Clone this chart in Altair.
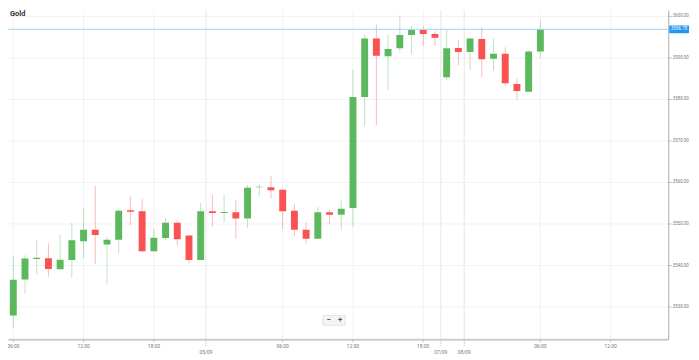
import altair as alt
import pandas as pd

title_text = "Gold"
current_price = 3596.78

idx = list(range(47))
opens = [3533.50, 3527.85, 3536.50, 3541.43, 3541.66, 3538.97, 3541.19, 3545.71, 3548.50, 3544.93,
         3546.12, 3553.17, 3552.93, 3543.33, 3546.50, 3550.16, 3547.14, 3541.19, 3552.93, 3552.54,
         3552.69, 3551.19, 3558.73, 3558.73, 3558.16, 3553.09, 3548.50, 3546.35, 3552.69, 3552.14,
         3553.73, 3580.47, 3594.59, 3590.31, 3592.21, 3595.40, 3596.59, 3595.64, 3585.23, 3592.31,
         3591.35, 3594.45, 3589.69, 3590.88, 3583.64, 3581.73, 3591.43]
closes = [3527.54, 3536.43, 3541.59, 3541.74, 3539.04, 3541.26, 3545.95, 3548.50, 3547.21, 3546.12,
          3553.09, 3552.86, 3543.33, 3546.59, 3550.16, 3546.19, 3541.19, 3552.93, 3552.54, 3552.78,
          3551.19, 3558.64, 3558.88, 3558.02, 3552.93, 3548.50, 3546.35, 3552.69, 3552.14, 3553.57,
          3580.47, 3594.59, 3590.40, 3592.07, 3595.40, 3596.59, 3595.64, 3594.76, 3592.21, 3591.35,
          3594.59, 3589.59, 3590.88, 3583.81, 3581.90, 3591.43, 3596.78]
highs = [3534.69, 3542.07, 3542.38, 3545.95, 3545.23, 3547.38, 3550.23, 3553.57, 3559.12, 3546.83,
         3553.33, 3556.50, 3555.88, 3548.73, 3551.35, 3550.71, 3547.14, 3554.93, 3556.90, 3556.90,
         3555.54, 3559.28, 3559.52, 3561.50, 3558.16, 3554.76, 3550.31, 3553.97, 3553.33, 3555.47,
         3587.07, 3595.40, 3597.93, 3595.54, 3600.16, 3597.62, 3597.55, 3596.35, 3596.83, 3594.21,
         3594.59, 3597.38, 3594.52, 3592.45, 3584.93, 3591.66, 3598.97]
lows = [3525.95, 3524.76, 3533.09, 3537.69, 3537.21, 3538.97, 3536.97, 3541.66, 3540.23, 3535.47,
        3542.85, 3549.59, 3543.09, 3543.17, 3546.02, 3544.76, 3540.40, 3541.19, 3549.35, 3550.31,
        3546.35, 3548.97, 3556.66, 3556.02, 3548.73, 3546.97, 3545.23, 3546.35, 3549.93, 3548.33,
        3549.21, 3573.57, 3573.73, 3582.14, 3591.43, 3590.78, 3592.78, 3592.86, 3584.59, 3588.09,
        3586.97, 3585.23, 3586.83, 3583.26, 3579.93, 3581.73, 3589.83]

time_tick_pos = [1, 7, 13, 24, 30, 36, 46, 52]
time_tick_labels = ["06:00", "12:00", "18:00", "06:00", "12:00", "18:00", "06:00", "12:00"]
date_tick_pos = [17.45, 37.5, 39.5]
date_tick_labels = ["05/09", "07/09", "08/09"]
y_ticks = [3530, 3540, 3550, 3560, 3570, 3580, 3590, 3600]

UP = "#5cb85c"
DOWN = "#fa5252"
W, H = 668, 333
x_dom = [0.5485, 56.92]
y_dom = [3522.14, 3601.43]

df = pd.DataFrame({"i": idx, "open": opens, "close": closes, "high": highs, "low": lows})
df["dir"] = ["up" if c >= o else "down" for o, c in zip(opens, closes)]

xs = alt.Scale(domain=x_dom, nice=False, zero=False, padding=0)
ys = alt.Scale(domain=y_dom, nice=False, zero=False, padding=0)
x_axis = alt.Axis(labels=False, ticks=False, grid=False, title=None, domainColor="#cccccc", domainWidth=2)
y_axis = alt.Axis(orient="right", values=y_ticks, format=".2f", title=None,
                  grid=True, gridColor="#f2f2f2", domainColor="#aaaaaa",
                  tickColor="#bbbbbb", tickSize=3, labelFontSize=4.5,
                  labelColor="#777777", labelPadding=1, labelFont="Roboto")
col = alt.Color("dir:N", scale=alt.Scale(domain=["up", "down"], range=[UP, DOWN]), legend=None)


def X(field):
    return alt.X(field, scale=xs, axis=x_axis)


def Y(field):
    return alt.Y(field, scale=ys, axis=y_axis)


base = alt.Chart(df)

wicks = base.mark_rule(strokeWidth=1, opacity=0.4, clip=True).encode(
    x=X("i:Q"), y=Y("low:Q"), y2="high:Q", color=col)

bodies = base.mark_bar(size=7, clip=True).encode(
    x=X("i:Q"), y=Y("open:Q"), y2="close:Q", color=col)

tdf = pd.DataFrame({"pos": time_tick_pos, "label": time_tick_labels})
ddf = pd.DataFrame({"pos": date_tick_pos, "label": date_tick_labels})

tgrid = alt.Chart(tdf).mark_rule(color="#f2f2f2", strokeWidth=1, clip=True).encode(
    x=X("pos:Q"), y=alt.value(0), y2=alt.value(H))
dgrid = alt.Chart(ddf).mark_rule(color="#e6e6e6", strokeWidth=1, clip=True).encode(
    x=X("pos:Q"), y=alt.value(0), y2=alt.value(H))

ttick = alt.Chart(tdf).mark_rule(color="#bbbbbb", strokeWidth=1).encode(
    x=X("pos:Q"), y=alt.value(H), y2=alt.value(H + 3))
dtick = alt.Chart(ddf).mark_rule(color="#bbbbbb", strokeWidth=1, strokeDash=[1, 1]).encode(
    x=X("pos:Q"), y=alt.value(H), y2=alt.value(H + 7))

tlab = alt.Chart(tdf).mark_text(fontSize=5, color="#777777", font="Roboto", baseline="middle").encode(
    x=X("pos:Q"), y=alt.value(H + 7), text="label:N")
dlab = alt.Chart(ddf).mark_text(fontSize=5, color="#777777", font="Roboto", baseline="middle").encode(
    x=X("pos:Q"), y=alt.value(H + 13), text="label:N")

pdf = pd.DataFrame({"price": [current_price], "label": [f"{current_price:.2f}"]})
pline = alt.Chart(pdf).mark_rule(color="#9fd2f2", strokeWidth=1).encode(
    y=Y("price:Q"), x=alt.value(0), x2=alt.value(W))
pbox = alt.Chart(pdf).mark_rect(color="#2196f3", yOffset=-4, y2Offset=4, cornerRadius=1).encode(
    y=Y("price:Q"), y2="price:Q", x=alt.value(W + 1), x2=alt.value(W + 21))
ptext = alt.Chart(pdf).mark_text(fontSize=4.5, color="white", font="Roboto", baseline="middle").encode(
    y=Y("price:Q"), x=alt.value(W + 11), text="label:N")

tdata = pd.DataFrame({"t": [title_text]})
title = alt.Chart(tdata).mark_text(fontSize=7.5, fontWeight="bold", color="#333333", font="Roboto",
                                   align="left", baseline="middle").encode(
    x=alt.value(2), y=alt.value(4.5), text="t:N")

bdata = pd.DataFrame({"b": ["−", "+"], "bx": [324.5, 336]})
bbox = alt.Chart(bdata).mark_rect(fill="#f4f4f4", stroke="#e2e2e2", strokeWidth=0.6).encode(
    x=alt.value(318.7), x2=alt.value(341.3), y=alt.value(309), y2=alt.value(319))
btext = alt.Chart(bdata).mark_text(fontSize=8, color="#555555", font="Roboto", baseline="middle",
                                   fontWeight="bold").encode(
    x=alt.X("bx:Q", scale=None), y=alt.value(314), text="b:N")

chart = alt.layer(
    tgrid, dgrid, wicks, bodies, pline, pbox, ptext, ttick, dtick, tlab, dlab, title, bbox, btext
).resolve_scale(x="shared", y="shared").properties(
    width=W, height=H,
    background="white",
    autosize=alt.AutoSizeParams(type="none"),
    padding={"left": 0, "top": 0, "right": 23, "bottom": 18},
).configure_view(stroke=None, strokeWidth=0)

chart.save("out.html", embed_options={"renderer": "svg", "actions": False})
